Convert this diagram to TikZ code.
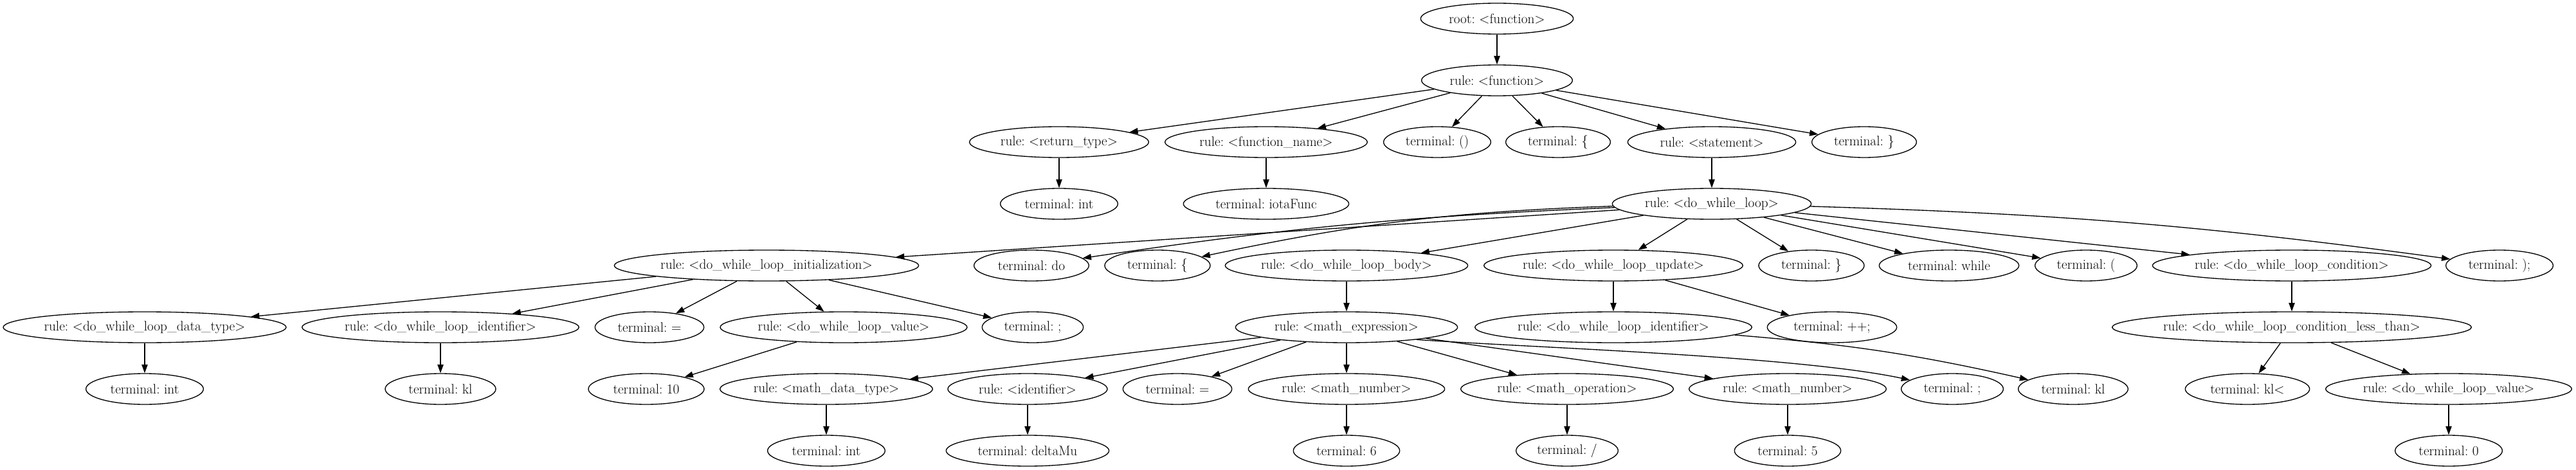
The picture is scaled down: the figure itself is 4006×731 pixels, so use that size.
\documentclass[tikz,border=0pt]{standalone}
\usetikzlibrary{shapes.geometric}
\usetikzlibrary{arrows.meta}
\usetikzlibrary{positioning}

\begin{document}
\begin{tikzpicture}[
x=0.75pt, y=-0.75pt,
every node/.style={ellipse, draw=black, inner xsep=-20pt, inner ysep=0pt, minimum height=36pt, font=\fontsize{16}{19}\selectfont\frenchspacing},
every path/.style={line width=1pt},
>={Triangle[length=10pt, width=7pt]},
node distance=35pt
]
\useasboundingbox (0,0) rectangle (4006,731);
% function part
\node[minimum width=178pt] (root) at (2328,29) {root: <function>};
\node[minimum width=176pt, below=of root] (func) {rule: <function>};
\node[minimum width=209pt] (rtype) at (1647,221) {rule: <return\_type>};
\node[minimum width=236pt] (fname) at (1969,221) {rule: <function\_name>};
\node[minimum width=125pt] (tparen) at (2235,221) {terminal: ()};
\node[minimum width=122pt] (tlbr) at (2423,221) {terminal: \{};
\node[minimum width=196pt] (stmt) at (2662,221) {rule: <statement>};
\node[minimum width=122pt] (trbr) at (2899,221) {terminal: \}};
\node[minimum width=137pt, below=of rtype] (tint) {terminal: int};
\node[minimum width=193pt, below=of fname] (tiota) {terminal: iotaFunc};
\node[minimum width=232pt, below=of stmt] (dwl) {rule: <do\_while\_loop>};
% loop parts
\node[minimum width=355pt] (init) at (1192,413) {rule: <do\_while\_loop\_initialization>};
\node[minimum width=134pt] (tdo) at (1604,413) {terminal: do};
\node[minimum width=123pt] (tlbrb) at (1800,413) {terminal: \{};
\node[minimum width=283pt] (body) at (2094,413) {rule: <do\_while\_loop\_body>};
\node[minimum width=302pt] (upd) at (2509,413) {rule: <do\_while\_loop\_update>};
\node[minimum width=123pt] (trbrb) at (2817,413) {terminal: \}};
\node[minimum width=163pt] (twhile) at (3031,413) {terminal: while};
\node[minimum width=119pt] (tlpar) at (3244,413) {terminal: (};
\node[minimum width=325pt] (cond) at (3564,413) {rule: <do\_while\_loop\_condition>};
\node[minimum width=125pt] (tend) at (3887,413) {terminal: );};
% initialization
\node[minimum width=330pt] (dtype) at (225,509) {rule: <do\_while\_loop\_data\_type>};
\node[minimum width=323pt] (ident) at (685,509) {rule: <do\_while\_loop\_identifier>};
\node[minimum width=127pt] (teq) at (1010,509) {terminal: =};
\node[minimum width=288pt] (value) at (1312,509) {rule: <do\_while\_loop\_value>};
\node[minimum width=118pt] (tsemi) at (1606,509) {terminal: ;};
\node[minimum width=137pt, below=of dtype] (tintb) {terminal: int};
\node[minimum width=129pt, below=of ident] (tkl) {terminal: kl};
\node[minimum width=135pt] (tten) at (1005,605) {terminal: 10};
% body
\node[minimum width=259pt, below=of body] (mexp) {rule: <math\_expression>};
\node[minimum width=248pt] (mdtype) at (1285,605) {rule: <math\_data\_type>};
\node[minimum width=186pt] (mident) at (1598,605) {rule: <identifier>};
\node[minimum width=127pt] (teqb) at (1831,605) {terminal: =};
\node[minimum width=229pt, below=of mexp] (mnum) {rule: <math\_number>};
\node[minimum width=248pt] (mop) at (2437,605) {rule: <math\_operation>};
\node[minimum width=230pt] (mnumb) at (2780,605) {rule: <math\_number>};
\node[minimum width=119pt] (tsemib) at (3036,605) {terminal: ;};
\node[minimum width=137pt, below=of mdtype] (tintc) {terminal: int};
\node[minimum width=190pt, below=of mident] (tdelta) {terminal: deltaMu};
\node[minimum width=124pt, below=of mnum] (tsix) {terminal: 6};
\node[minimum width=119pt, below=of mop] (tslash) {terminal: /};
\node[minimum width=124pt, below=of mnumb] (tfive) {terminal: 5};
% update
\node[minimum width=323pt, below=of upd] (identb) {rule: <do\_while\_loop\_identifier>};
\node[minimum width=151pt] (tinc) at (2849,509) {terminal: ++;};
\node[minimum width=128pt] (tklb) at (3224,605) {terminal: kl};
% condition
\node[minimum width=419pt, below=of cond] (less) {rule: <do\_while\_loop\_condition\_less\_than>};
\node[minimum width=145pt] (tklt) at (3495,605) {terminal: kl<};
\node[minimum width=287pt] (valueb) at (3808,605) {rule: <do\_while\_loop\_value>};
\node[minimum width=125pt, below=of valueb] (tzero) {terminal: 0};
% edges
\draw[->] (root) -- (func);
\draw[->] (func) -- (rtype);
\draw[->] (func) -- (fname);
\draw[->] (func) -- (tparen);
\draw[->] (func) -- (tlbr);
\draw[->] (func) -- (stmt);
\draw[->] (func) -- (trbr);
\draw[->] (rtype) -- (tint);
\draw[->] (fname) -- (tiota);
\draw[->] (stmt) -- (dwl);
\draw[->] (dwl) -- (init);
\draw[->] (dwl) to [bend right=3] (tdo);
\draw[->] (dwl) to [bend right=5] (tlbrb);
\draw[->] (dwl) -- (body);
\draw[->] (dwl) -- (upd);
\draw[->] (dwl) -- (trbrb);
\draw[->] (dwl) -- (twhile);
\draw[->] (dwl) -- (tlpar);
\draw[->] (dwl) -- (cond);
\draw[->] (dwl) to [bend left=3] (tend);
\draw[->] (init) -- (dtype);
\draw[->] (init) -- (ident);
\draw[->] (init) -- (teq);
\draw[->] (init) -- (value);
\draw[->] (init) -- (tsemi);
\draw[->] (dtype) -- (tintb);
\draw[->] (ident) -- (tkl);
\draw[->] (value) -- (tten);
\draw[->] (body) -- (mexp);
\draw[->] (mexp) -- (mdtype);
\draw[->] (mexp) -- (mident);
\draw[->] (mexp) -- (teqb);
\draw[->] (mexp) -- (mnum);
\draw[->] (mexp) -- (mop);
\draw[->] (mexp) -- (mnumb);
\draw[->] (mexp.-10) to [out=-4, in=168, looseness=0.6] (tsemib);
\draw[->] (mdtype) -- (tintc);
\draw[->] (mident) -- (tdelta);
\draw[->] (mnum) -- (tsix);
\draw[->] (mop) -- (tslash);
\draw[->] (mnumb) -- (tfive);
\draw[->] (upd) -- (identb);
\draw[->] (upd) -- (tinc);
\draw[->] (identb) to [bend left=4] (tklb);
\draw[->] (cond) -- (less);
\draw[->] (less) -- (tklt);
\draw[->] (less) -- (valueb);
\draw[->] (valueb) -- (tzero);
\end{tikzpicture}
\end{document}
